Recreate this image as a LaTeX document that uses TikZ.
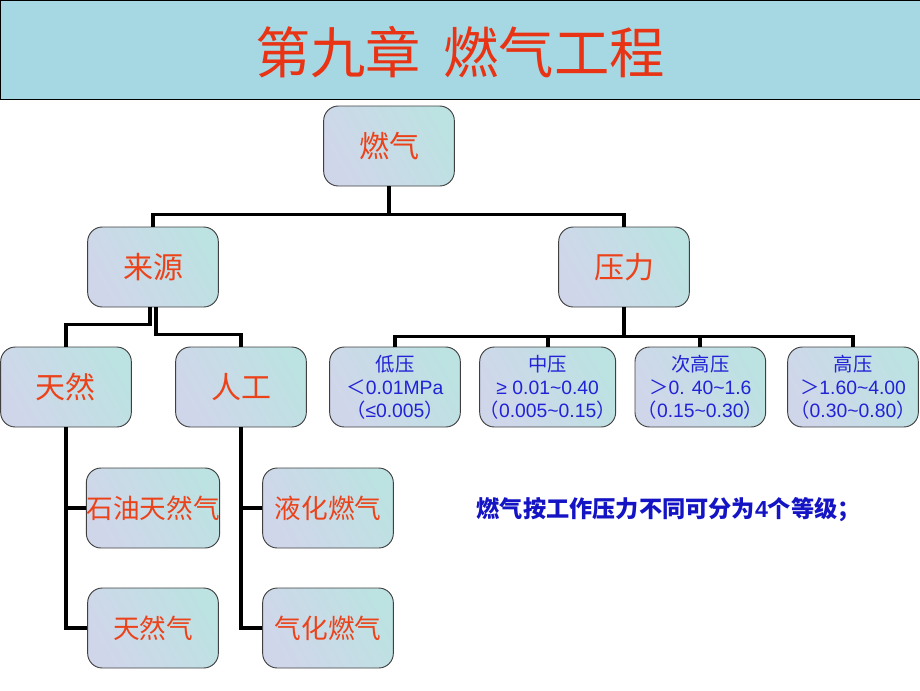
\documentclass[tikz,border=0pt]{standalone}
\usepackage{fontspec}
\setmainfont{Liberation Sans}
\newfontfamily\cjk{Noto Sans CJK SC}
\usetikzlibrary{shapes,arrows}
\definecolor{titlered}{RGB}{232,52,20}
\definecolor{labelred}{RGB}{236,66,26}
\definecolor{levelblue}{RGB}{34,34,214}
\definecolor{noteblue}{RGB}{20,20,196}
\definecolor{boxtop}{RGB}{208,214,234}
\definecolor{boxbot}{RGB}{188,226,226}
\definecolor{banner}{RGB}{166,216,228}
\tikzstyle{block} = [draw=black!75, line width=0.7pt, rounded corners=11pt,
left color=boxtop, right color=boxbot, shading angle=120,
minimum width=98pt, minimum height=60pt, inner sep=0pt]
\tikzstyle{srcblock} = [block, text=labelred, font=\cjk\fontsize{22.5}{23}\selectfont]
\tikzstyle{subblock} = [block, text=labelred, font=\cjk\fontsize{20}{21}\selectfont]
\tikzstyle{prblock} = [block, text=levelblue, align=center, font=\fontsize{14.5}{17.3}\selectfont]
\tikzstyle{line} = [draw, line width=2.8pt]

\begin{document}
\begin{tikzpicture}[x=1pt, y=1pt]
\useasboundingbox (0,0) rectangle (690,-517.5);

% banner with the chapter title
\fill [banner] (0,0) rectangle (690,-75);
\draw [line width=1pt] (690,-0.5) -- (0.5,-0.5) -- (0.5,-74.5) -- (690,-74.5);
\node [text=titlered, font=\cjk\fontsize{41.5}{42}\selectfont] (title) at (345,-39) {第九章\hspace{0.4em}燃气工程};

% We start by placing the blocks
\node [srcblock] (ranqi) at (291.75,-109.5) {燃气};
\node [srcblock] (laiyuan) at (114.75,-200.25) {来源};
\node [srcblock, right of=laiyuan, node distance=353.25pt] (yali) {压力};

\node [srcblock] (tianran) at (49.5,-290.25) {天然};
\node [srcblock, right of=tianran, node distance=131.25pt] (rengong) {人工};

\node [prblock] (diya) at (296.25,-290.25) {{\cjk 低压}\\{\cjk ＜}0.01MPa\\{\cjk （}≤0.005{\cjk ）}};
\node [prblock, right of=diya, node distance=114.5pt] (zhongya) {{\cjk 中压}\\≥ 0.01\textasciitilde 0.40\\{\cjk （}0.005\textasciitilde 0.15{\cjk ）}};
\node [prblock, right of=zhongya, node distance=114.5pt] (cigaoya) {{\cjk 次高压}\\{\cjk ＞}0. 40\textasciitilde 1.6\\{\cjk （}0.15\textasciitilde 0.30{\cjk ）}};
\node [prblock, right of=cigaoya, node distance=114.5pt] (gaoya) {{\cjk 高压}\\{\cjk ＞}1.60\textasciitilde 4.00\\{\cjk （}0.30\textasciitilde 0.80{\cjk ）}};

\node [subblock, below of=laiyuan, node distance=180.75pt] (shiyou) {石油天然气};
\node [subblock, below of=shiyou, node distance=90pt] (tianranqi) {天然气};
\node [subblock, right of=shiyou, node distance=131.25pt] (yehua) {液化燃气};
\node [subblock, below of=yehua, node distance=90pt] (qihua) {气化燃气};

\node [text=noteblue, font=\bfseries\fontsize{17.4}{18}\selectfont] (note) at (501.5,-382.5)
{{\cjk 燃气按工作压力不同可分为}4{\cjk 个等级；}};

% Once the nodes are placed, connecting them is easy.
\draw [line] (ranqi.south) -- ++(0,-21pt) coordinate (top);
\draw [line] (laiyuan.north) |- (top) -| (yali.north);

\draw [line] ([xshift=-2pt]laiyuan.south) -- ++(0,-12.75pt) -| (tianran.north);
\draw [line] ([xshift=2pt]laiyuan.south) -- ++(0,-20.25pt) -| (rengong.north);

\draw [line] (yali.south) -- ++(0,-21.75pt) coordinate (mid);
\draw [line] (diya.north) |- (mid) -| (gaoya.north);
\foreach \lv in {zhongya,cigaoya}
  \draw [line] (\lv.north) -- (\lv.north |- mid);

\draw [line] (tianran.south) |- (tianranqi.west);
\draw [line] (tianran.south |- shiyou.west) -- (shiyou.west);
\draw [line] (rengong.south) |- (qihua.west);
\draw [line] (rengong.south |- yehua.west) -- (yehua.west);
\end{tikzpicture}
\end{document}
